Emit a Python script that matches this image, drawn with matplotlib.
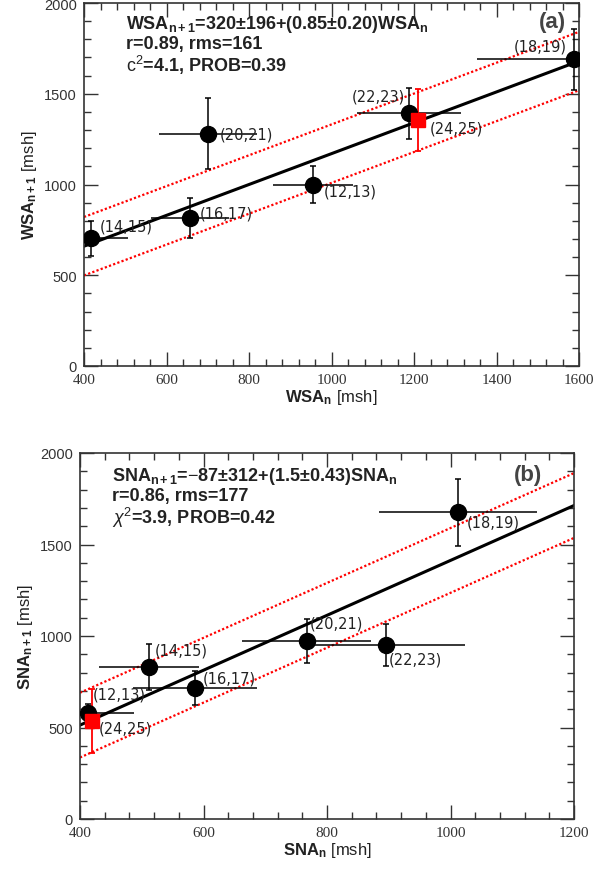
import matplotlib
matplotlib.use("Agg")
import matplotlib.pyplot as plt
import numpy as np
from matplotlib.ticker import MultipleLocator

plt.rcParams['font.family'] = ['Liberation Sans', 'DejaVu Sans']
plt.rcParams['mathtext.fontset'] = 'custom'
plt.rcParams['mathtext.rm'] = 'Liberation Sans'
plt.rcParams['mathtext.bf'] = 'Liberation Sans:bold'
plt.rcParams['mathtext.it'] = 'Liberation Sans:italic'

# panel (a): WSA of cycle n vs cycle n+1
wsa_labels = ['(14,15)', '(16,17)', '(20,21)', '(12,13)', '(22,23)', '(18,19)']
wsa_n = [417, 657, 701, 956, 1189, 1588]
wsa_n_err = [90, 95, 119, 97, 126, 235]
wsa_n1 = [703, 815, 1280, 1000, 1392, 1690]
wsa_n1_err = [95, 108, 197, 100, 140, 167]
wsa_new = [1210]
wsa_new_next = [1355]
wsa_new_err = [170]
wsa_fit = (320, 0.85)
wsa_rms = 161

# panel (b): SNA
sna_labels = ['(12,13)', '(14,15)', '(16,17)', '(20,21)', '(22,23)', '(18,19)']
sna_n = [413, 512, 586, 767, 895, 1012]
sna_n_err = [75, 81, 100, 104, 129, 128]
sna_n1 = [578, 829, 716, 974, 951, 1676]
sna_n1_err = [50, 125, 92, 120, 114, 184]
sna_new = [419]
sna_new_next = [537]
sna_new_err = [176]
sna_fit = (-87, 1.5)
sna_rms = 177

new_label = '(24,25)'

# label offsets in pixels (dx, dy up, ha)
wsa_offs = [(9, 12, 'left'), (10, 5, 'left'), (12, 0, 'left'), (10, -6, 'left'),
            (-4, 17, 'right'), (-7, 13, 'right')]
wsa_new_off = (12, -8, 'left')
sna_offs = [(5, 19, 'left'), (6, 17, 'left'), (8, 10, 'left'), (3, 18, 'left'),
            (3, -14, 'left'), (9, -10, 'left')]
sna_new_off = (7, -7, 'left')

fc = '#333333'
W, H = 593, 878
fig = plt.figure(figsize=(W / 100, H / 100), dpi=100)
ax1 = fig.add_axes([84 / W, 1 - 367 / H, 495 / W, 363 / H])
ax2 = fig.add_axes([80 / W, 1 - 820 / H, 494 / W, 366 / H])


def panel(ax, xs, xe, ys, ye, labels, offs, nx, ny, ne, noff, fit, rms, xlim, xminor):
    xx = np.array(xlim, dtype=float)
    a, b = fit
    ax.plot(xx, a + b * xx, color='black', lw=2.2, zorder=2)
    ax.plot(xx, a + b * xx + rms, color='red', lw=1.6, ls=(0, (1, 1)), zorder=2)
    ax.plot(xx, a + b * xx - rms, color='red', lw=1.6, ls=(0, (1, 1)), zorder=2)
    ax.errorbar(xs, ys, xerr=xe, fmt='none', ecolor='black', elinewidth=1.1, capsize=0, zorder=3)
    ax.errorbar(xs, ys, yerr=ye, fmt='none', ecolor='black', elinewidth=1.1, capsize=2.5,
                capthick=1.1, zorder=3)
    ax.plot(xs, ys, 'o', color='black', ms=11.5, zorder=4)
    ax.errorbar(nx, ny, yerr=ne, fmt='none', ecolor='red', elinewidth=1.3, capsize=2.5,
                capthick=1.3, zorder=3)
    ax.plot(nx, ny, 's', color='red', ms=10.5, zorder=5)
    for x, y, lab, (dx, dy, ha) in zip(xs, ys, labels, offs):
        ax.annotate(lab, (x, y), xytext=(dx, dy), textcoords='offset pixels', ha=ha,
                    va='center', fontsize=10.5, family='DejaVu Sans', color='#222222')
    dx, dy, ha = noff
    ax.annotate(new_label, (nx[0], ny[0]), xytext=(dx, dy), textcoords='offset pixels',
                ha=ha, va='center', fontsize=10.5, family='DejaVu Sans', color='#222222')
    ax.set_xlim(xlim)
    ax.set_ylim(0, 2000)
    ax.xaxis.set_major_locator(MultipleLocator(200))
    ax.xaxis.set_minor_locator(MultipleLocator(xminor))
    ax.yaxis.set_major_locator(MultipleLocator(500))
    ax.yaxis.set_minor_locator(MultipleLocator(100))
    ax.tick_params(which='both', direction='in', top=True, right=True, color=fc, width=1)
    ax.tick_params(which='major', length=10)
    ax.tick_params(which='minor', length=5)
    ax.tick_params(axis='y', labelsize=10.5, labelcolor=fc, pad=5)
    ax.tick_params(axis='x', labelsize=11, labelcolor=fc, pad=5)
    for t in ax.get_xticklabels():
        t.set_family('Liberation Serif')
    for s in ax.spines.values():
        s.set_color(fc)
        s.set_linewidth(1.2)


panel(ax1, wsa_n, wsa_n_err, wsa_n1, wsa_n1_err, wsa_labels, wsa_offs,
      wsa_new, wsa_new_next, wsa_new_err, wsa_new_off, wsa_fit, wsa_rms, (400, 1600), 40)
panel(ax2, sna_n, sna_n_err, sna_n1, sna_n1_err, sna_labels, sna_offs,
      sna_new, sna_new_next, sna_new_err, sna_new_off, sna_fit, sna_rms, (400, 1200), 40)

tc = '#222222'
fs = 13
fit_a = ('WSA$_\\mathbf{n+1}$=320±196+(0.85±0.20)WSA$_\\mathbf{n}$\n'
         'r=0.89, rms=161\n'
         '$\\mathrm{c}^2$=4.1, PROB=0.39')
fit_b = ('SNA$_\\mathbf{n+1}$=$-$87±312+(1.5±0.43)SNA$_\\mathbf{n}$\n'
         'r=0.86, rms=177\n'
         '$\\chi^2$=3.9, PROB=0.42')
ax1.text(0.085, 0.972, fit_a, transform=ax1.transAxes, fontsize=fs, fontweight='bold',
         color=tc, va='top', linespacing=1.05)
ax1.text(0.947, 0.95, '(a)', transform=ax1.transAxes, fontsize=16, fontweight='bold',
         color='#444444', va='center', ha='center')
ax2.text(0.065, 0.967, fit_b, transform=ax2.transAxes, fontsize=fs, fontweight='bold',
         color=tc, va='top', linespacing=1.05)
ax2.text(0.907, 0.94, '(b)', transform=ax2.transAxes, fontsize=16, fontweight='bold',
         color='#444444', va='center', ha='center')

ax1.set_xlabel('$\\mathbf{WSA_n}$ [msh]', fontsize=12, color=tc, labelpad=1)
ax1.set_ylabel('$\\mathbf{WSA_{n+1}}$ [msh]', fontsize=12, color=tc, labelpad=4)
ax2.set_xlabel('$\\mathbf{SNA_n}$ [msh]', fontsize=12, color=tc, labelpad=1)
ax2.set_ylabel('$\\mathbf{SNA_{n+1}}$ [msh]', fontsize=12, color=tc, labelpad=4)

fig.savefig('out.png', dpi=100)
